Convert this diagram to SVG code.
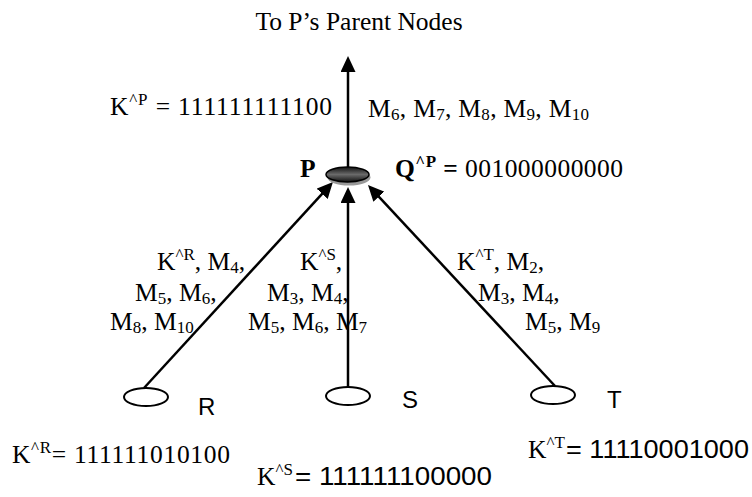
<svg xmlns="http://www.w3.org/2000/svg" width="752" height="497" viewBox="0 0 752 497">
<style>
.t{font-family:"Liberation Serif","Times New Roman",serif;font-size:25.5px;fill:#000}
.b{font-weight:bold}
.s{font-family:"Liberation Sans",Arial,sans-serif;font-size:25px;fill:#000}
.lbl{font-family:"Liberation Sans",Arial,sans-serif;font-size:24px;fill:#000}
.sm{font-size:17px}
.edge{stroke:#000;stroke-width:2.5;fill:none}
.leaf{fill:#fff;stroke:#000;stroke-width:2}
</style>
<defs>
<marker id="ah" markerUnits="userSpaceOnUse" markerWidth="16" markerHeight="15" refX="6" refY="7.5" orient="auto">
<path d="M0,0 L16,7.5 L0,15 z" fill="#000"/>
</marker>
<linearGradient id="pg" x1="0" y1="0" x2="0" y2="1">
<stop offset="0" stop-color="#111"/>
<stop offset="0.5" stop-color="#6a6a6a"/>
<stop offset="1" stop-color="#111"/>
</linearGradient>
</defs>

<text class="t" x="359" y="30" text-anchor="middle">To P’s Parent Nodes</text>

<g id="connectors">
<line class="edge" x1="348" y1="167" x2="348" y2="66" marker-end="url(#ah)"/>
<line class="edge" x1="144" y1="388" x2="326.2" y2="189.4" marker-end="url(#ah)"/>
<line class="edge" x1="348" y1="387" x2="348" y2="197" marker-end="url(#ah)"/>
<line class="edge" x1="555" y1="386" x2="374.8" y2="192.3" marker-end="url(#ah)"/>
</g>

<g id="node-P">
<ellipse cx="349" cy="177.5" rx="21.5" ry="8" fill="#999"/>
<ellipse cx="347.5" cy="174.5" rx="21.5" ry="7.5" fill="url(#pg)" stroke="#000" stroke-width="1.5"/>
<text class="t b" x="300" y="177">P</text>
</g>
<g id="node-R">
<ellipse class="leaf" cx="146" cy="397" rx="22" ry="9"/>
<text class="lbl" x="198" y="415">R</text>
</g>
<g id="node-S">
<ellipse class="leaf" cx="348" cy="396" rx="22" ry="9"/>
<text class="lbl" x="402" y="408">S</text>
</g>
<g id="node-T">
<ellipse class="leaf" cx="553" cy="395" rx="22" ry="9"/>
<text class="lbl" x="607" y="408">T</text>
</g>

<g id="labels">
<text class="t" x="110" y="115" textLength="222" lengthAdjust="spacing">K<tspan class="sm" dy="-10">^P</tspan><tspan dy="10"> = 111111111100</tspan></text>
<text class="t" x="368" y="117" textLength="221" lengthAdjust="spacing">M<tspan class="sm" dy="3">6</tspan><tspan dy="-3">, M</tspan><tspan class="sm" dy="3">7</tspan><tspan dy="-3">, M</tspan><tspan class="sm" dy="3">8</tspan><tspan dy="-3">, M</tspan><tspan class="sm" dy="3">9</tspan><tspan dy="-3">, M</tspan><tspan class="sm" dy="3">10</tspan></text>
<text class="t" x="395" y="177" textLength="228" lengthAdjust="spacing"><tspan class="b">Q</tspan><tspan class="b sm" dy="-10">^P</tspan><tspan class="b" dy="10"> =</tspan> 001000000000</text>

<text class="t" x="157" y="270">K<tspan class="sm" dy="-10">^R</tspan><tspan dy="10">, M</tspan><tspan class="sm" dy="3">4</tspan><tspan dy="-3">,</tspan></text>
<text class="t" x="135" y="301">M<tspan class="sm" dy="3">5</tspan><tspan dy="-3">, M</tspan><tspan class="sm" dy="3">6</tspan><tspan dy="-3">,</tspan></text>
<text class="t" x="110" y="330">M<tspan class="sm" dy="3">8</tspan><tspan dy="-3">, M</tspan><tspan class="sm" dy="3">10</tspan></text>

<text class="t" x="300" y="270">K<tspan class="sm" dy="-10">^S</tspan><tspan dy="10">,</tspan></text>
<text class="t" x="267" y="301">M<tspan class="sm" dy="3">3</tspan><tspan dy="-3">, M</tspan><tspan class="sm" dy="3">4</tspan><tspan dy="-3">,</tspan></text>
<text class="t" x="248" y="330">M<tspan class="sm" dy="3">5</tspan><tspan dy="-3">, M</tspan><tspan class="sm" dy="3">6</tspan><tspan dy="-3">, M</tspan><tspan class="sm" dy="3">7</tspan></text>

<text class="t" x="457" y="270">K<tspan class="sm" dy="-10">^T</tspan><tspan dy="10">, M</tspan><tspan class="sm" dy="3">2</tspan><tspan dy="-3">,</tspan></text>
<text class="t" x="478" y="301">M<tspan class="sm" dy="3">3</tspan><tspan dy="-3">, M</tspan><tspan class="sm" dy="3">4</tspan><tspan dy="-3">,</tspan></text>
<text class="t" x="525" y="330">M<tspan class="sm" dy="3">5</tspan><tspan dy="-3">, M</tspan><tspan class="sm" dy="3">9</tspan></text>

<text class="t" x="12" y="463" textLength="218" lengthAdjust="spacing">K<tspan class="sm" dy="-10">^R</tspan><tspan dy="10">= 111111010100</tspan></text>
<text class="t" x="257" y="485">K<tspan class="sm" dy="-10">^S</tspan></text>
<text class="s" x="295" y="485" textLength="197" lengthAdjust="spacingAndGlyphs">= 111111100000</text>
<text class="t" x="528" y="458">K<tspan class="sm" dy="-10">^T</tspan></text>
<text class="s" x="566" y="458" textLength="183" lengthAdjust="spacingAndGlyphs">= 11110001000</text>
</g>
</svg>
